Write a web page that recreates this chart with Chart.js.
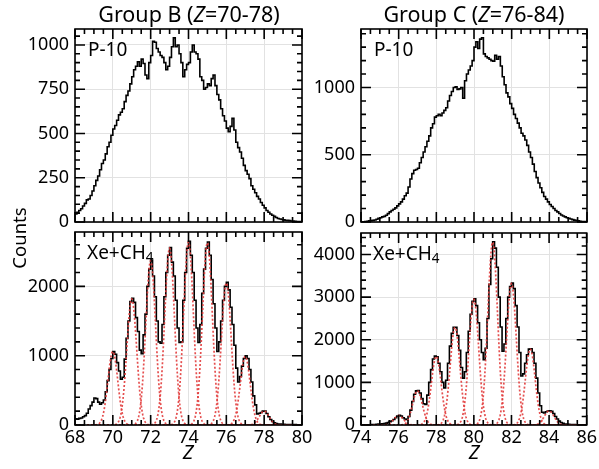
<!DOCTYPE html>
<html><head><meta charset="utf-8">
<script src="https://cdn.jsdelivr.net/npm/chart.js@4.4.1/dist/chart.umd.min.js"></script>
<style>
html,body{margin:0;padding:0;background:#fff;}
#wrap{position:relative;width:599px;height:469px;overflow:hidden;background:#fff;}
#wrap canvas{position:absolute;left:0;top:0;}
#txt{position:absolute;left:0;top:0;}
</style></head>
<body>
<div id="wrap">
<canvas id="c1" width="599" height="469"></canvas>
<canvas id="c2" width="599" height="469"></canvas>
<canvas id="c3" width="599" height="469"></canvas>
<canvas id="c4" width="599" height="469"></canvas>
<svg id="txt" width="599" height="469" font-family="Noto Sans" fill="#000">
  <text x="189" y="22" text-anchor="middle" font-size="21.5">Group B (<tspan font-style="italic">Z</tspan>=70-78)</text>
  <text x="474" y="22" text-anchor="middle" font-size="21.5">Group C (<tspan font-style="italic">Z</tspan>=76-84)</text>
  <text x="88" y="55.5" font-size="19">P-10</text>
  <text x="374" y="56" font-size="19">P-10</text>
  <text x="87" y="258.5" font-size="19">Xe+CH<tspan font-size="13.5" dy="3">4</tspan></text>
  <text x="373" y="259.5" font-size="19">Xe+CH<tspan font-size="13.5" dy="3">4</tspan></text>
  <text x="188" y="458.5" text-anchor="middle" font-size="20" font-style="italic">Z</text>
  <text x="474" y="458.5" text-anchor="middle" font-size="20" font-style="italic">Z</text>
  <text transform="translate(26,238) rotate(-90)" text-anchor="middle" font-size="18.5">Counts</text>
</svg>
</div>
<script>
// ---------------- data ----------------
const BIN = 0.1;
const zStartB = 68.0;
const zStartC = 74.0;

// Group B, P-10 (bins of 0.1 starting at Z=68.0)
const p10B = [
  45, 55, 65, 75, 90, 105, 125, 130, 150, 175,
  205, 235, 260, 295, 330, 350, 385, 425, 450, 490,
  525, 545, 575, 605, 620, 640, 680, 715, 740, 780,
  820, 860, 880, 905, 880, 920, 895, 830, 810, 900,
  940, 1020, 1015, 980, 960, 940, 930, 900, 860, 880,
  930, 990, 1040, 990, 1000, 950, 900, 820, 860, 890,
  900, 960, 1000, 960, 950, 920, 820, 800, 750, 760,
  780, 770, 810, 830, 770, 720, 690, 640, 600, 570,
  530, 510, 540, 585, 520, 450, 420, 395, 360, 320,
  290, 270, 245, 205, 185, 165, 145, 130, 110, 95,
  80, 65, 55, 45, 38, 32, 25, 20, 17, 14,
  12, 10, 9, 8, 6, 5, 4, 3, 2, 2
];
// Group B, Xe+CH4
const xeB = [
  90, 85, 95, 100, 120, 135, 170, 230, 280, 330,
  390, 380, 330, 300, 320, 360, 480, 640, 800, 960,
  1060, 1020, 900, 780, 660, 690, 950, 1250, 1500, 1780,
  1830, 1770, 1550, 1350, 1080, 1030, 1300, 1600, 2000, 2250,
  2380, 2150, 1850, 1500, 1200, 1180, 1450, 1850, 2200, 2450,
  2560, 2350, 2150, 1800, 1400, 1190, 1200, 1800, 2200, 2550,
  2650, 2450, 2200, 1800, 1400, 1190, 1450, 1900, 2250, 2550,
  2640, 2450, 2100, 1750, 1400, 1060, 1200, 1500, 1800, 2000,
  2060, 1950, 1700, 1450, 1150, 820, 620, 700, 850, 960,
  1000, 960, 800, 620, 420, 290, 160, 170, 180, 200,
  200, 165, 120, 80, 50, 30, 20, 15, 12, 10,
  9, 8, 8, 7, 6, 6, 5, 4, 3, 3
];
// Group C, P-10 (bins of 0.1 starting at Z=74.0)
const p10C = [
  0, 2, 3, 5, 8, 10, 12, 15, 20, 28,
  32, 38, 42, 50, 62, 75, 85, 95, 105, 120,
  135, 150, 170, 195, 215, 260, 320, 360, 385, 390,
  400, 440, 480, 520, 560, 600, 640, 700, 730, 780,
  790, 800, 790, 810, 830, 850, 900, 940, 970, 1000,
  1005, 985, 990, 1000, 920, 1050, 1100, 1130, 1160, 1200,
  1300, 1340, 1290, 1360, 1370, 1250, 1230, 1220, 1210, 1200,
  1195, 1240, 1210, 1230, 1160, 1080, 1020, 960, 930, 880,
  845, 800, 770, 735, 700, 660, 640, 610, 570, 520,
  480, 430, 375, 330, 290, 255, 220, 190, 170, 150,
  130, 115, 100, 85, 75, 63, 52, 45, 38, 32,
  28, 22, 18, 14, 11, 8, 6, 4, 3, 2
];
// Group C, Xe+CH4
const xeC = [
  0, 0, 2, 3, 5, 8, 10, 12, 15, 20,
  25, 30, 35, 45, 60, 75, 100, 130, 170, 210,
  225, 210, 170, 140, 130, 200, 350, 550, 720, 800,
  810, 750, 620, 500, 480, 700, 1000, 1300, 1550, 1620,
  1600, 1450, 1250, 1000, 870, 1050, 1450, 1850, 2150, 2290,
  2290, 2100, 1750, 1350, 1100, 1250, 1700, 2200, 2600, 2900,
  2960, 2800, 2400, 2000, 1700, 1530, 1800, 2500, 3300, 3900,
  4300, 4150, 3700, 3000, 2300, 1730, 1900, 2500, 3000, 3250,
  3330, 3200, 2800, 2300, 1700, 1150, 1200, 1450, 1650, 1780,
  1790, 1700, 1450, 1100, 750, 450, 300, 280, 310, 330,
  335, 320, 270, 200, 140, 90, 60, 40, 25, 20,
  15, 12, 10, 8, 6, 5, 4, 3, 2, 2
];

// Gaussian fits (red dotted): centre, amplitude, sigma
const fitZB   = [70, 71, 72, 73, 74, 75, 76, 77, 78];
const fitAmpB = [1060, 1820, 2370, 2550, 2640, 2630, 2050, 990, 200];
const fitSigB = [0.26, 0.26, 0.26, 0.26, 0.26, 0.26, 0.26, 0.26, 0.26];
const fitZC   = [76, 77, 78, 79, 80, 81, 82, 83, 84];
const fitAmpC = [220, 800, 1610, 2290, 2950, 4290, 3320, 1780, 330];
const fitSigC = [0.26, 0.26, 0.26, 0.26, 0.26, 0.26, 0.26, 0.26, 0.26];

// tick labels
const xTicksB = [68, 70, 72, 74, 76, 78, 80];
const xTicksC = [74, 76, 78, 80, 82, 84, 86];
const yTicksP10B = [0, 250, 500, 750, 1000];
const yTicksXeB  = [0, 1000, 2000];
const yTicksP10C = [0, 500, 1000];
const yTicksXeC  = [0, 1000, 2000, 3000, 4000];

// ---------------- drawing ----------------
const FONT = 'Noto Sans';
const W = 599, H = 469;

const frameTicks = {
  id: 'frameTicks',
  afterDatasetsDraw(chart, args, o) {
    const {ctx, chartArea: a, scales: {x, y}} = chart;
    ctx.save();
    ctx.strokeStyle = '#000';
    ctx.lineWidth = 1.6;
    ctx.beginPath();
    const eps = 1e-6;
    for (let v = o.xmin; v <= o.xmax + eps; v += o.xMinor) {
      const px = x.getPixelForValue(v);
      const major = Math.abs((v - o.xmin) / o.xMajor - Math.round((v - o.xmin) / o.xMajor)) < 1e-6;
      const len = major ? 10 : 5;
      ctx.moveTo(px, a.bottom); ctx.lineTo(px, a.bottom - len);
      ctx.moveTo(px, a.top); ctx.lineTo(px, a.top + len);
    }
    for (let v = 0; v <= o.ymax + eps; v += o.yMinor) {
      const py = y.getPixelForValue(v);
      const major = Math.abs(v / o.yMajor - Math.round(v / o.yMajor)) < 1e-6;
      const len = major ? 10 : 5;
      ctx.moveTo(a.left, py); ctx.lineTo(a.left + len, py);
      ctx.moveTo(a.right, py); ctx.lineTo(a.right - len, py);
    }
    ctx.stroke();
    ctx.lineWidth = 1.6;
    ctx.strokeRect(a.left, a.top, a.right - a.left, a.bottom - a.top);
    ctx.restore();
  }
};

function histPoints(z0, vals) {
  const pts = vals.map((v, i) => ({x: +(z0 + i * BIN).toFixed(3), y: v}));
  pts.push({x: +(z0 + vals.length * BIN).toFixed(3), y: vals[vals.length - 1]});
  return pts;
}

function fitCurve(c, A, s, xmin, xmax) {
  const pts = [];
  for (let i = 0; ; i++) {
    const xv = xmin + i * 0.02;
    if (xv > xmax + 1e-9) break;
    pts.push({x: xv, y: A * Math.exp(-((xv - c) * (xv - c)) / (2 * s * s))});
  }
  return pts;
}

const panels = [
  {id: 'c1', area: {l: 75, r: 302, t: 29, b: 222}, xmin: 68, xmax: 80, ymax: 1090,
   z0: zStartB, hist: p10B, xt: xTicksB, yt: yTicksP10B, yMajor: 250, yMinor: 50, showX: false},
  {id: 'c2', area: {l: 75, r: 302, t: 232, b: 425}, xmin: 68, xmax: 80, ymax: 2785,
   z0: zStartB, hist: xeB, fit: {z: fitZB, a: fitAmpB, s: fitSigB}, xt: xTicksB, yt: yTicksXeB, yMajor: 1000, yMinor: 200, showX: true},
  {id: 'c3', area: {l: 361, r: 587, t: 29, b: 222}, xmin: 74, xmax: 86, ymax: 1435,
   z0: zStartC, hist: p10C, xt: xTicksC, yt: yTicksP10C, yMajor: 500, yMinor: 100, showX: false},
  {id: 'c4', area: {l: 361, r: 587, t: 233, b: 425}, xmin: 74, xmax: 86, ymax: 4505,
   z0: zStartC, hist: xeC, fit: {z: fitZC, a: fitAmpC, s: fitSigC}, xt: xTicksC, yt: yTicksXeC, yMajor: 1000, yMinor: 200, showX: true}
];

panels.forEach(p => {
  const yW = 60;
  const xH = p.showX ? 30 : 0;
  const datasets = [];
  if (p.fit) {
    p.fit.z.forEach((c, i) => {
      datasets.push({
        data: fitCurve(c, p.fit.a[i], p.fit.s[i], p.xmin, p.xmax),
        borderColor: 'rgba(226,60,60,0.9)', borderWidth: 1.7, borderDash: [2, 2],
        pointRadius: 0, fill: false, tension: 0
      });
    });
  }
  datasets.push({
    data: histPoints(p.z0, p.hist), stepped: 'before',
    borderColor: '#000', borderWidth: 1.6, pointRadius: 0, fill: false
  });
  new Chart(document.getElementById(p.id), {
    type: 'line',
    data: {datasets},
    plugins: [frameTicks],
    options: {
      responsive: false, animation: false, devicePixelRatio: 1,
      layout: {padding: {left: p.area.l - yW, right: W - p.area.r, top: p.area.t, bottom: H - p.area.b - xH}},
      plugins: {
        legend: {display: false}, tooltip: {enabled: false},
        frameTicks: {xmin: p.xmin, xmax: p.xmax, xMajor: 2, xMinor: 0.5, ymax: p.ymax, yMajor: p.yMajor, yMinor: p.yMinor}
      },
      scales: {
        x: {
          type: 'linear', min: p.xmin, max: p.xmax,
          afterBuildTicks: s => { s.ticks = p.xt.map(v => ({value: v})); },
          afterFit: s => { s.height = xH; },
          grid: {color: '#e2e2e2', lineWidth: 1, drawTicks: false},
          border: {display: false},
          ticks: {display: p.showX, color: '#000', font: {family: FONT, size: 18}, padding: 2,
                  maxRotation: 0, autoSkip: false, callback: v => String(v)}
        },
        y: {
          type: 'linear', min: 0, max: p.ymax,
          afterBuildTicks: s => { s.ticks = p.yt.map(v => ({value: v})); },
          afterFit: s => { s.width = yW; },
          grid: {color: '#e2e2e2', lineWidth: 1, drawTicks: false},
          border: {display: false},
          ticks: {color: '#000', font: {family: FONT, size: 18}, padding: 6, callback: v => String(v)}
        }
      }
    }
  });
});
</script>
</body></html>
